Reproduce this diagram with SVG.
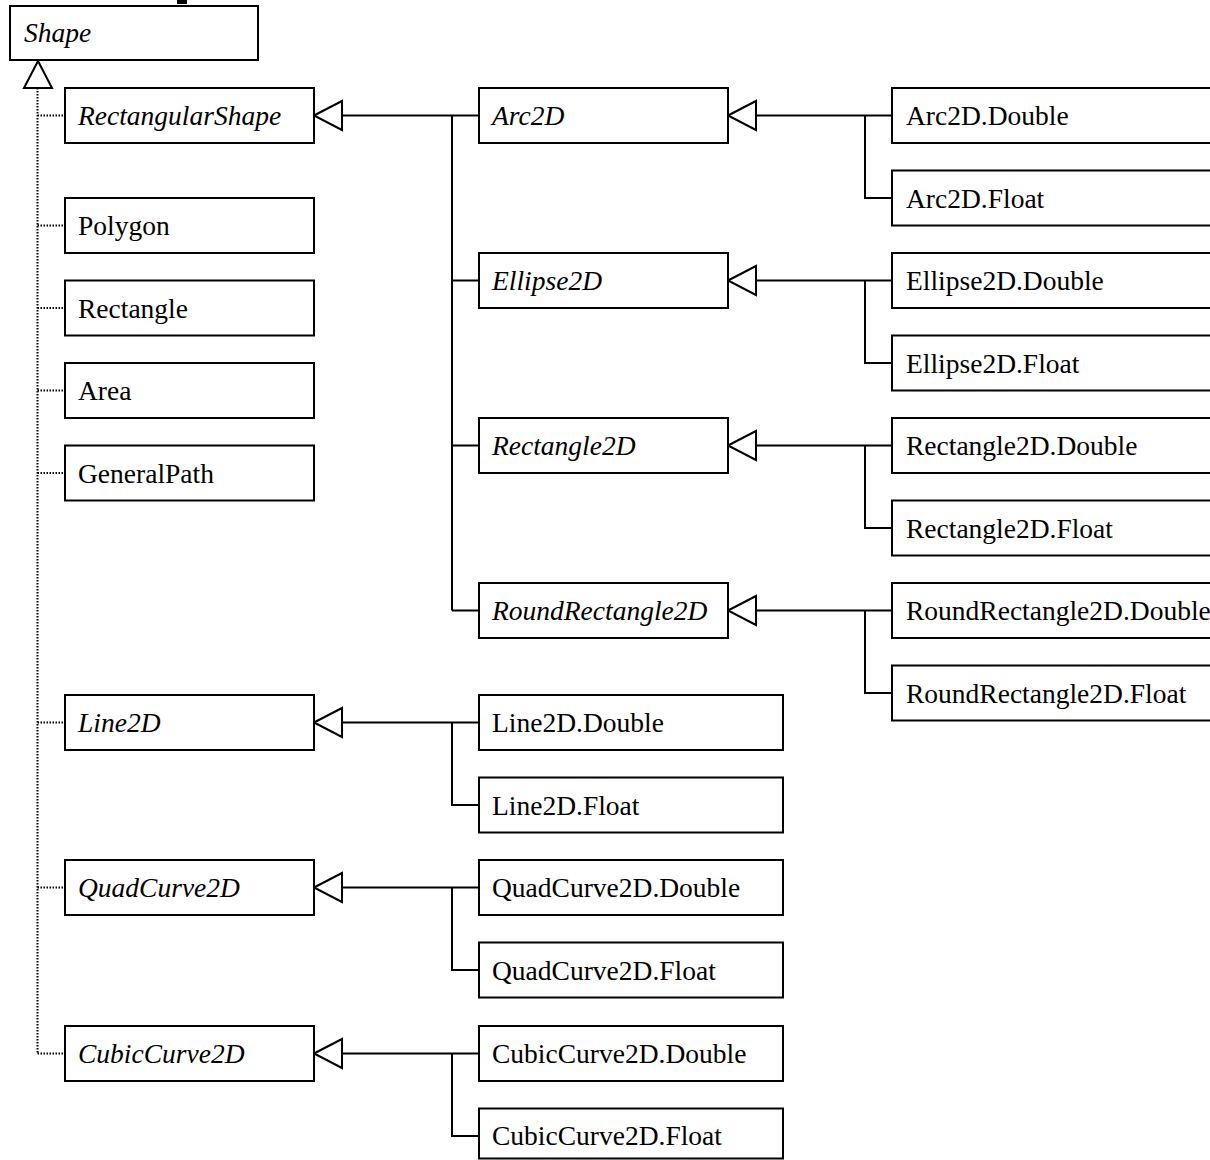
<svg xmlns="http://www.w3.org/2000/svg" width="1210" height="1160" viewBox="0 0 1210 1160">
<style>
.box{fill:#fff;stroke:#000;stroke-width:2}
.t{font-family:"Liberation Serif","Times New Roman",serif;font-size:27.5px;fill:#000}
.i{font-style:italic}
.ln{fill:none;stroke:#000;stroke-width:2}
.dot{fill:none;stroke:#000;stroke-width:2;stroke-dasharray:1.5,1.5}
.tri{fill:#fff;stroke:#000;stroke-width:2}
</style>
<rect x="177" y="0" width="10" height="4" fill="#000"/>
<g id="connectors">
  <path class="dot" d="M37.5,88 V1053.5 M37.5,115.5 H65 M37.5,225.5 H65 M37.5,308 H65 M37.5,390.5 H65 M37.5,473 H65 M37.5,722.5 H65 M37.5,887.5 H65 M37.5,1053.5 H65"/>
  <polygon class="tri" points="38,61 24,88 52,88"/>
  <path class="ln" d="M342,115.5 H479 M452,115.5 V610.5 M452,280.5 H479 M452,445.5 H479 M452,610.5 H479"/>
  <polygon class="tri" points="314,115.5 342,101 342,130"/>
  <path class="ln" d="M756,115.5 H892 M865,115.5 V198 H892"/>
  <polygon class="tri" points="728,115.5 756,101 756,130"/>
  <path class="ln" d="M756,280.5 H892 M865,280.5 V363 H892"/>
  <polygon class="tri" points="728,280.5 756,266 756,295"/>
  <path class="ln" d="M756,445.5 H892 M865,445.5 V528 H892"/>
  <polygon class="tri" points="728,445.5 756,431 756,460"/>
  <path class="ln" d="M756,610.5 H892 M865,610.5 V693 H892"/>
  <polygon class="tri" points="728,610.5 756,596 756,625"/>
  <path class="ln" d="M342,722.5 H479 M452,722.5 V805 H479"/>
  <polygon class="tri" points="314,722.5 342,708 342,737"/>
  <path class="ln" d="M342,887.5 H479 M452,887.5 V970 H479"/>
  <polygon class="tri" points="314,887.5 342,873 342,902"/>
  <path class="ln" d="M342,1053.5 H479 M452,1053.5 V1136 H479"/>
  <polygon class="tri" points="314,1053.5 342,1039 342,1068"/>
</g>
<g id="Shape"><rect class="box" x="10" y="6" width="248" height="54"/><text class="t i" x="24" y="42">Shape</text></g>
<g id="RectangularShape"><rect class="box" x="65" y="88" width="249" height="55"/><text class="t i" x="78" y="125">RectangularShape</text></g>
<g id="Polygon"><rect class="box" x="65" y="198" width="249" height="55"/><text class="t" x="78" y="235">Polygon</text></g>
<g id="Rectangle"><rect class="box" x="65" y="280.5" width="249" height="55"/><text class="t" x="78" y="317.5">Rectangle</text></g>
<g id="Area"><rect class="box" x="65" y="363" width="249" height="55"/><text class="t" x="78" y="400">Area</text></g>
<g id="GeneralPath"><rect class="box" x="65" y="445.5" width="249" height="55"/><text class="t" x="78" y="482.5">GeneralPath</text></g>
<g id="Line2D"><rect class="box" x="65" y="695" width="249" height="55"/><text class="t i" x="78" y="732">Line2D</text></g>
<g id="QuadCurve2D"><rect class="box" x="65" y="860" width="249" height="55"/><text class="t i" x="78" y="897">QuadCurve2D</text></g>
<g id="CubicCurve2D"><rect class="box" x="65" y="1026" width="249" height="55"/><text class="t i" x="78" y="1063">CubicCurve2D</text></g>
<g id="Arc2D"><rect class="box" x="479" y="88" width="249" height="55"/><text class="t i" x="492" y="125">Arc2D</text></g>
<g id="Ellipse2D"><rect class="box" x="479" y="253" width="249" height="55"/><text class="t i" x="492" y="290">Ellipse2D</text></g>
<g id="Rectangle2D"><rect class="box" x="479" y="418" width="249" height="55"/><text class="t i" x="492" y="455">Rectangle2D</text></g>
<g id="RoundRectangle2D"><rect class="box" x="479" y="583" width="249" height="55"/><text class="t i" x="492" y="620">RoundRectangle2D</text></g>
<g id="Line2D.Double"><rect class="box" x="479" y="695" width="304" height="55"/><text class="t" x="492" y="732">Line2D.Double</text></g>
<g id="Line2D.Float"><rect class="box" x="479" y="777.5" width="304" height="55"/><text class="t" x="492" y="814.5">Line2D.Float</text></g>
<g id="QuadCurve2D.Double"><rect class="box" x="479" y="860" width="304" height="55"/><text class="t" x="492" y="897">QuadCurve2D.Double</text></g>
<g id="QuadCurve2D.Float"><rect class="box" x="479" y="942.5" width="304" height="55"/><text class="t" x="492" y="979.5">QuadCurve2D.Float</text></g>
<g id="CubicCurve2D.Double"><rect class="box" x="479" y="1026" width="304" height="55"/><text class="t" x="492" y="1063">CubicCurve2D.Double</text></g>
<g id="CubicCurve2D.Float"><rect class="box" x="479" y="1108.5" width="304" height="50"/><text class="t" x="492" y="1145">CubicCurve2D.Float</text></g>
<g id="Arc2D.Double"><rect class="box" x="892" y="88" width="330" height="55"/><text class="t" x="906" y="125">Arc2D.Double</text></g>
<g id="Arc2D.Float"><rect class="box" x="892" y="170.5" width="330" height="55"/><text class="t" x="906" y="207.5">Arc2D.Float</text></g>
<g id="Ellipse2D.Double"><rect class="box" x="892" y="253" width="330" height="55"/><text class="t" x="906" y="290">Ellipse2D.Double</text></g>
<g id="Ellipse2D.Float"><rect class="box" x="892" y="335.5" width="330" height="55"/><text class="t" x="906" y="372.5">Ellipse2D.Float</text></g>
<g id="Rectangle2D.Double"><rect class="box" x="892" y="418" width="330" height="55"/><text class="t" x="906" y="455">Rectangle2D.Double</text></g>
<g id="Rectangle2D.Float"><rect class="box" x="892" y="500.5" width="330" height="55"/><text class="t" x="906" y="537.5">Rectangle2D.Float</text></g>
<g id="RoundRectangle2D.Double"><rect class="box" x="892" y="583" width="330" height="55"/><text class="t" x="906" y="620">RoundRectangle2D.Double</text></g>
<g id="RoundRectangle2D.Float"><rect class="box" x="892" y="665.5" width="330" height="55"/><text class="t" x="906" y="702.5">RoundRectangle2D.Float</text></g>
</svg>
